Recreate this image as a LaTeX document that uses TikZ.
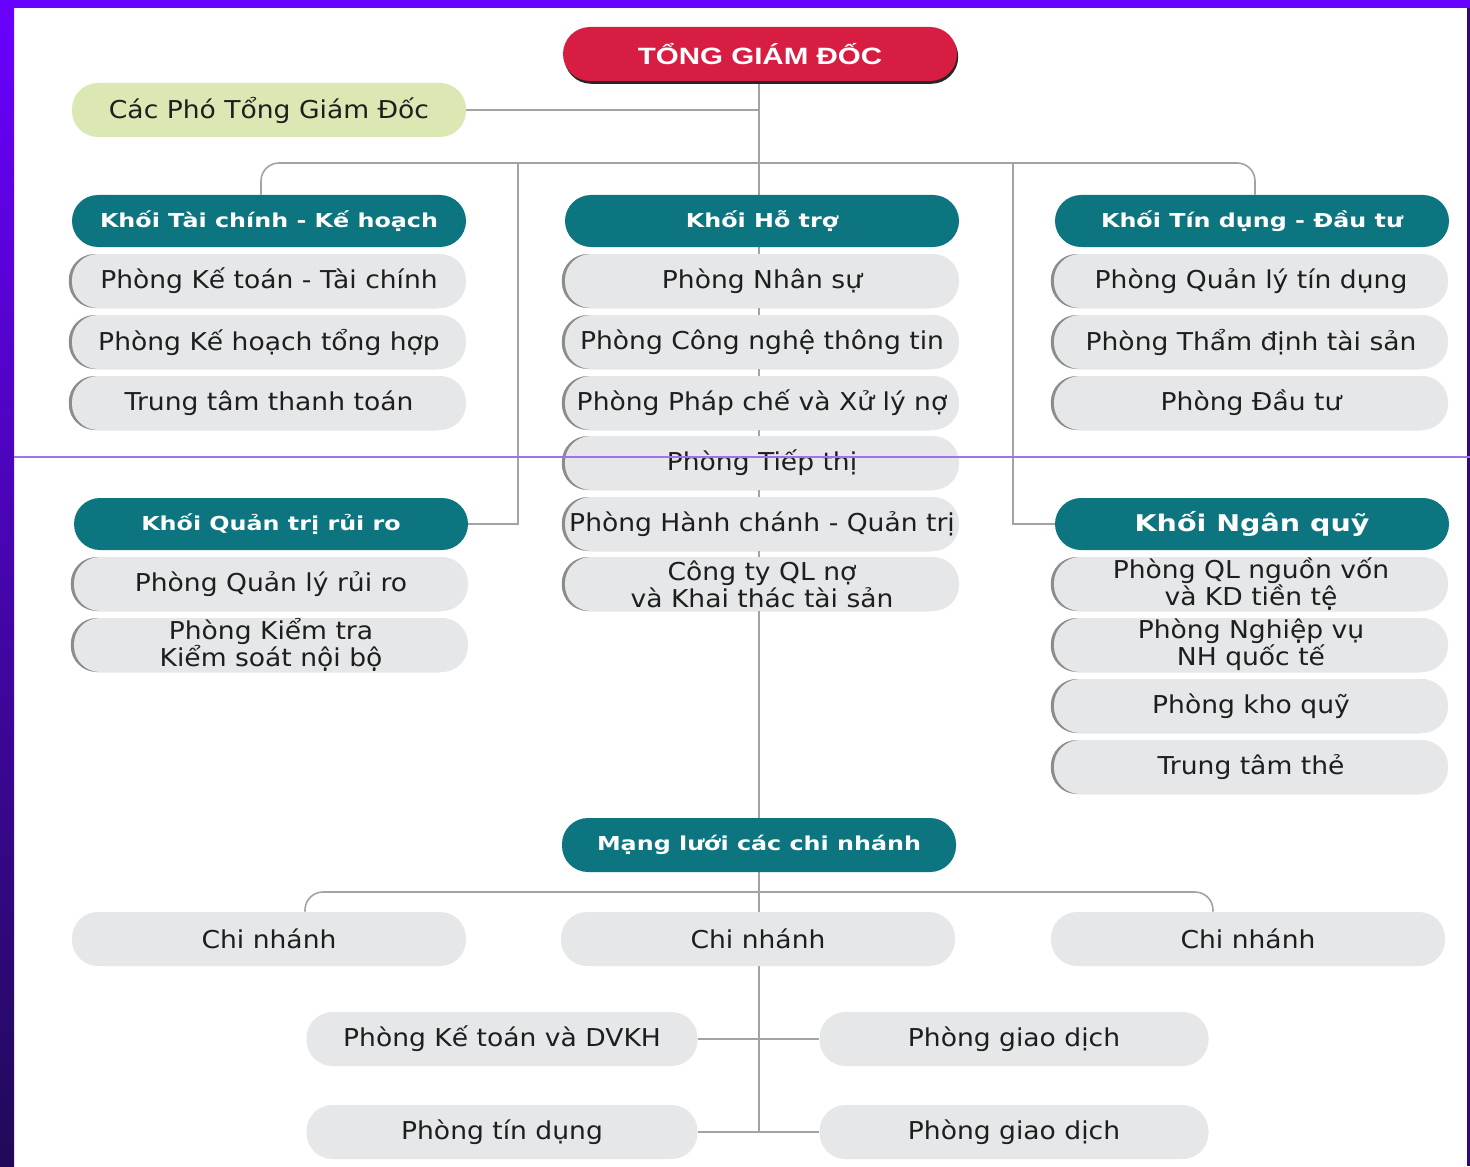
\documentclass[tikz,border=0pt]{standalone}
\usepackage{fontspec}
\setmainfont[FakeStretch=1.08]{DejaVu Sans}
\newfontfamily\hdrfont[FakeStretch=1.24]{DejaVu Sans}
\newfontfamily\ttlfont[FakeStretch=1.25]{Liberation Sans}
\usetikzlibrary{shadows}
\definecolor{ttlred}{HTML}{D81D43}
\definecolor{teal}{HTML}{0C7580}
\definecolor{boxgray}{HTML}{E6E7E8}
\definecolor{phogreen}{HTML}{DCE8B4}
\definecolor{txt}{HTML}{1E1E1E}
\definecolor{conncol}{HTML}{A3A3A3}
\definecolor{barpurple}{HTML}{6600FF}
\definecolor{striptop}{HTML}{6A00FF}
\definecolor{stripbot}{HTML}{200A58}
\definecolor{thinpurple}{HTML}{A070F0}
\pgfdeclarelayer{back}
\pgfdeclarelayer{bg}
\pgfdeclarelayer{front}
\pgfsetlayers{back,bg,main,front}
\tikzset{
  pill/.style={rectangle, rounded corners=13pt, minimum width=197pt, minimum height=27pt, inner sep=0pt, align=center},
  ttl/.style={pill, minimum height=27pt, rounded corners=13.5pt, fill=ttlred, text=white,
     font=\ttlfont\bfseries\fontsize{11.8}{13}\selectfont,
     drop shadow={shadow xshift=0.6pt, shadow yshift=-1.4pt, fill=black!85, opacity=1}},
  phobox/.style={pill, fill=phogreen, text=txt, font=\fontsize{12.3}{13.5}\selectfont},
  hdr/.style={pill, minimum height=26pt, fill=teal, text=white, font=\hdrfont\bfseries\fontsize{9.6}{11}\selectfont},
  bighdr/.style={hdr, font=\hdrfont\bfseries\fontsize{11.5}{13}\selectfont},
  sub/.style={pill, fill=boxgray, text=txt, font=\fontsize{12.3}{13.5}\selectfont,
     drop shadow={shadow xshift=-1.6pt, shadow yshift=0pt, fill=black!45, opacity=1}},
  branch/.style={pill, fill=boxgray, text=txt, font=\fontsize{12.3}{13.5}\selectfont},
  conn/.style={draw=conncol, line width=0.8pt},
}
\begin{document}
\begin{tikzpicture}[x=0.5pt,y=-0.5pt]
\useasboundingbox (0,0) rectangle (1470,1166);
\begin{pgfonlayer}{back}
  \fill[white] (0,0) rectangle (1470,1166);
  \shade[top color=striptop, bottom color=stripbot] (0,0) rectangle (14,1166);
  \fill[barpurple] (0,0) rectangle (1470,8);
  \fill[stripbot!80!striptop] (1467,8) rectangle (1470,1166);
\end{pgfonlayer}

% top
\node[ttl] (title) at (760,54) {TỔNG GIÁM ĐỐC};
\node[phobox] (pho) at (269,110) {Các Phó Tổng Giám Đốc};

% headers
\node[hdr] (hA) at (269,221) {Khối Tài chính - Kế hoạch};
\node[hdr] (hB) at (762,221) {Khối Hỗ trợ};
\node[hdr] (hC) at (1252,221) {Khối Tín dụng - Đầu tư};
\node[hdr] (hD) at (271,524) {Khối Quản trị rủi ro};
\node[bighdr] (hE) at (1252,524) {Khối Ngân quỹ};
\node[hdr, minimum height=27pt] (hF) at (759,845) {Mạng lưới các chi nhánh};

% left column
\node[sub] (a1) at (269,281) {Phòng Kế toán - Tài chính};
\node[sub] (a2) at (269,342) {Phòng Kế hoạch tổng hợp};
\node[sub] (a3) at (269,403) {Trung tâm thanh toán};

% middle column
\node[sub] (b1) at (762,281) {Phòng Nhân sự};
\node[sub] (b2) at (762,342) {Phòng Công nghệ thông tin};
\node[sub] (b3) at (762,403) {Phòng Pháp chế và Xử lý nợ};
\node[sub] (b4) at (762,463) {Phòng Tiếp thị};
\node[sub] (b5) at (762,524) {Phòng Hành chánh - Quản trị};
\node[sub] (b6) at (762,584) {Công ty QL nợ\\và Khai thác tài sản};

% right column
\node[sub] (c1) at (1251,281) {Phòng Quản lý tín dụng};
\node[sub] (c2) at (1251,342) {Phòng Thẩm định tài sản};
\node[sub] (c3) at (1251,403) {Phòng Đầu tư};

% risk
\node[sub] (d1) at (271,584) {Phòng Quản lý rủi ro};
\node[sub] (d2) at (271,645) {Phòng Kiểm tra\\Kiểm soát nội bộ};

% treasury
\node[sub] (e1) at (1251,584) {Phòng QL nguồn vốn\\và KD tiền tệ};
\node[sub] (e2) at (1251,645) {Phòng Nghiệp vụ\\NH quốc tế};
\node[sub] (e3) at (1251,706) {Phòng kho quỹ};
\node[sub] (e4) at (1251,767) {Trung tâm thẻ};

% branches
\node[branch] (n1) at (269,939) {Chi nhánh};
\node[branch] (n2) at (758,939) {Chi nhánh};
\node[branch] (n3) at (1248,939) {Chi nhánh};
\node[branch, minimum width=195.5pt] (kt) at (502,1039) {Phòng Kế toán và DVKH};
\node[branch, minimum width=194.5pt] (gd1) at (1014,1039) {Phòng giao dịch};
\node[branch, minimum width=195.5pt] (td) at (502,1132) {Phòng tín dụng};
\node[branch, minimum width=194.5pt] (gd2) at (1014,1132) {Phòng giao dịch};

\begin{pgfonlayer}{bg}
  \coordinate (bus) at (759,163);
  \coordinate (bA) at (261,163);
  \coordinate (bC) at (1255,163);
  \coordinate (jl) at (518,163);
  \coordinate (jr) at (1013,163);
  \coordinate (ctop) at (759,30);
  \coordinate (cb) at (759,1132);
  \coordinate (bl) at (305,892);
  \coordinate (br) at (1213,892);
  \draw[conn] (ctop) -- (cb);
  \draw[conn] (pho.east) -- (pho.east -| bus);
  \draw[conn, rounded corners=9pt] (bA |- hA.north) -- (bA) -- (bC) -- (bC |- hC.north);
  \draw[conn] (jl) |- (hD.east);
  \draw[conn] (jr) |- (hE.west);
  \draw[conn, rounded corners=9pt] (bl |- n1.north) -- (bl) -- (br) -- (br |- n3.north);
  \draw[conn] (kt.east) -- (gd1.west);
  \draw[conn] (td.east) -- (gd2.west);
\end{pgfonlayer}

\begin{pgfonlayer}{front}
  \coordinate (pl) at (14,457);
  \coordinate (pr) at (1470,457);
  \draw[thinpurple, line width=0.6pt] (pl) -- (pr);
\end{pgfonlayer}
\end{tikzpicture}
\end{document}
